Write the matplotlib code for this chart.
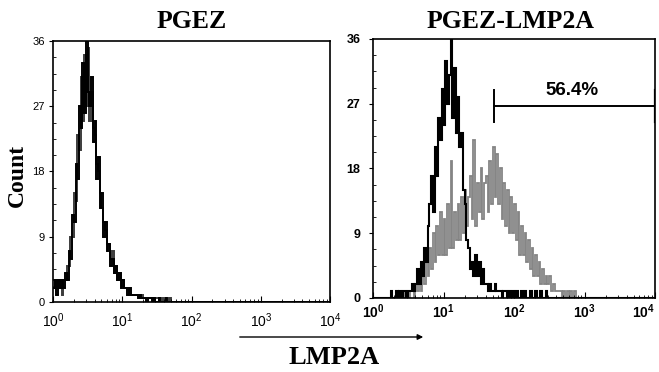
import numpy as np
import matplotlib
matplotlib.use("Agg")
import matplotlib.pyplot as plt
from matplotlib.ticker import FixedLocator, FixedFormatter, NullFormatter
from matplotlib.patches import FancyArrowPatch

plt.rcParams["font.family"] = ["Liberation Sans", "DejaVu Sans"]
plt.rcParams["mathtext.fontset"] = "custom"
plt.rcParams["mathtext.rm"] = "Liberation Sans"
plt.rcParams["mathtext.bf"] = "Liberation Sans:bold"

# channel counts, 40 bins per decade starting at 10^0
pgez_black = [
    2, 3, 1, 3, 2, 3, 2, 4,
    3, 7, 6, 12, 11, 19, 17, 27,
    24, 33, 26, 36, 29, 27, 31, 22,
    25, 17, 20, 13, 15, 9, 11, 7,
    8, 5, 6, 4, 5, 3, 4, 2,
    3, 2, 2, 1, 2, 1, 1, 1,
    1, 0.5, 1, 0.5, 0.5, 0.5, 0, 0.5,
    0.5, 0, 0.5, 0, 0, 0.5, 0, 0,
    0, 0.5, 0, 0, 0, 0, 0, 0,
]
pgez_gray = [
    3, 2, 3, 2, 3, 1, 3, 3,
    5, 5, 9, 9, 15, 14, 23, 21,
    31, 25, 34, 27, 35, 25, 29, 24,
    23, 19, 18, 15, 13, 11, 10, 8,
    8, 6, 7, 4, 5, 3, 4, 3,
    3, 2, 2, 2, 1, 1, 1, 1,
    1, 1, 0.5, 1, 0.5, 0.5, 0.5, 0.5,
    0.5, 0.5, 0, 0.5, 0.5, 0, 0.5, 0,
    0.5, 0, 0, 0.5, 0, 0, 0, 0,
]
lmp_control = [
    0, 0, 0, 0, 0, 0, 0, 0,
    0, 0, 1, 0, 0, 1, 0, 1,
    0, 1, 1, 0, 1, 1, 2, 1,
    2, 4, 2, 5, 3, 7, 5, 10,
    13, 17, 12, 21, 17, 25, 22, 29,
    24, 33, 27, 31, 36, 25, 32, 23,
    28, 21, 23, 15, 13, 8, 7, 4,
    5, 3, 6, 3, 5, 2, 4, 2,
    2, 1, 2, 1, 1, 2, 1, 1,
    1, 0, 1, 1, 0, 1, 0, 1,
    0, 1, 0, 0, 1, 0, 1, 0,
    0, 1, 0, 0, 1, 0, 0, 1,
    0, 0, 1, 0, 0, 0, 0, 0,
]
lmp_stained = [
    0, 0, 0, 0, 0, 0, 0, 0,
    0, 0, 0, 0, 0, 0, 0, 0,
    0, 0, 1, 1, 0, 1, 2, 0,
    2, 1, 3, 1, 4, 2, 6, 3,
    7, 4, 9, 5, 10, 6, 12, 6,
    11, 6, 13, 7, 19, 7, 12, 8,
    13, 8, 14, 9, 15, 10, 14, 17,
    11, 22, 10, 16, 12, 18, 11, 16,
    17, 12, 19, 13, 21, 14, 20, 13,
    18, 11, 16, 10, 15, 9, 14, 9,
    13, 8, 12, 6, 10, 6, 9, 5,
    8, 4, 7, 3, 6, 3, 5, 2,
    4, 2, 3, 2, 3, 1, 2, 1,
    1, 1, 1, 0, 1, 0, 1, 0,
    1, 0, 1, 0,
]
y_ticks = [0, 9, 18, 27, 36]
x_decades = [0, 1, 2, 3, 4]
gate = (52, 9900, 26.7)
gate_label = "56.4%"

edges = np.logspace(0, 4, 4 * 40 + 1)


def stairs(ax, counts, color, lw=1.0):
    c = np.zeros(len(edges) - 1)
    c[: len(counts)] = counts
    ax.stairs(c, edges, color=color, lw=lw, baseline=None)


def setup(ax, bold):
    ax.set_xscale("log")
    ax.set_xlim(1, 1e4)
    ax.set_ylim(0, 36)
    fmt = r"$\mathbf{10^{%d}}$" if bold else r"$\mathrm{10^{%d}}$"
    weight = "bold" if bold else "normal"
    ax.xaxis.set_major_locator(FixedLocator([10.0**d for d in x_decades]))
    ax.xaxis.set_major_formatter(FixedFormatter([fmt % d for d in x_decades]))
    ax.xaxis.set_minor_locator(FixedLocator([k * 10.0**d for d in range(4) for k in range(2, 10)]))
    ax.xaxis.set_minor_formatter(NullFormatter())
    ax.yaxis.set_major_locator(FixedLocator(y_ticks))
    ax.yaxis.set_major_formatter(FixedFormatter([str(v) for v in y_ticks]))
    ax.yaxis.set_minor_locator(FixedLocator(np.arange(0, 36, 2.25)))
    ax.tick_params(axis="x", which="major", direction="in", length=4, width=0.8,
                   labelsize=10, pad=7 if not bold else 3)
    ax.tick_params(axis="x", which="minor", direction="in", length=2.5, width=0.6)
    ax.tick_params(axis="y", which="major", direction="out", length=3, width=0.8,
                   labelsize=9 if bold else 8, pad=3 if not bold else 6)
    ax.tick_params(axis="y", which="minor", direction="in", length=2.5, width=0.6)
    for lab in ax.get_yticklabels():
        lab.set_fontweight(weight)
    for sp in ax.spines.values():
        sp.set_linewidth(1.2)


fig = plt.figure(figsize=(6.59, 3.72), dpi=100)
ax1 = fig.add_axes([53 / 659, 70 / 372, 277 / 659, 261 / 372])
ax2 = fig.add_axes([373 / 659, 74 / 372, 282 / 659, 259 / 372])

stairs(ax1, pgez_gray, "#3c3c3c", 1.4)
stairs(ax1, pgez_black, "black", 1.4)
setup(ax1, bold=False)

stairs(ax2, lmp_stained, "#858585", 1.3)
stairs(ax2, lmp_control, "black", 1.5)
setup(ax2, bold=True)
ax2.xaxis.get_major_ticks()[-1].label1.set_horizontalalignment("right")

lo, hi, gy = gate
ax2.plot([lo, hi], [gy, gy], color="black", lw=1.4)
ax2.plot([lo, lo], [gy - 2.2, gy + 2.2], color="black", lw=1.4)
ax2.plot([hi, hi], [gy - 2.2, gy + 2.2], color="black", lw=1.6)
ax2.text(661, 28.9, gate_label, ha="center", va="center", fontsize=13.5, fontweight="bold")

serif = ["Liberation Serif", "DejaVu Serif"]
fig.text(192 / 659, 1 - 21 / 372, "PGEZ", ha="center", va="center",
         family=serif, fontsize=18.5, fontweight="bold")
fig.text(511 / 659, 1 - 21 / 372, "PGEZ-LMP2A", ha="center", va="center",
         family=serif, fontsize=18.5, fontweight="bold")
fig.text(17 / 659, 1 - 175 / 372, "Count", ha="center", va="center", rotation=90,
         family=serif, fontsize=17, fontweight="bold")
fig.text(334 / 659, 1 - 357 / 372, "LMP2A", ha="center", va="center",
         family=serif, fontsize=19, fontweight="bold")
arrow = FancyArrowPatch((237 / 659, 1 - 337 / 372), (426 / 659, 1 - 337 / 372),
                        transform=fig.transFigure, arrowstyle="-|>", mutation_scale=8,
                        color="black", lw=1.0)
fig.add_artist(arrow)

fig.savefig("out.png", dpi=100)
